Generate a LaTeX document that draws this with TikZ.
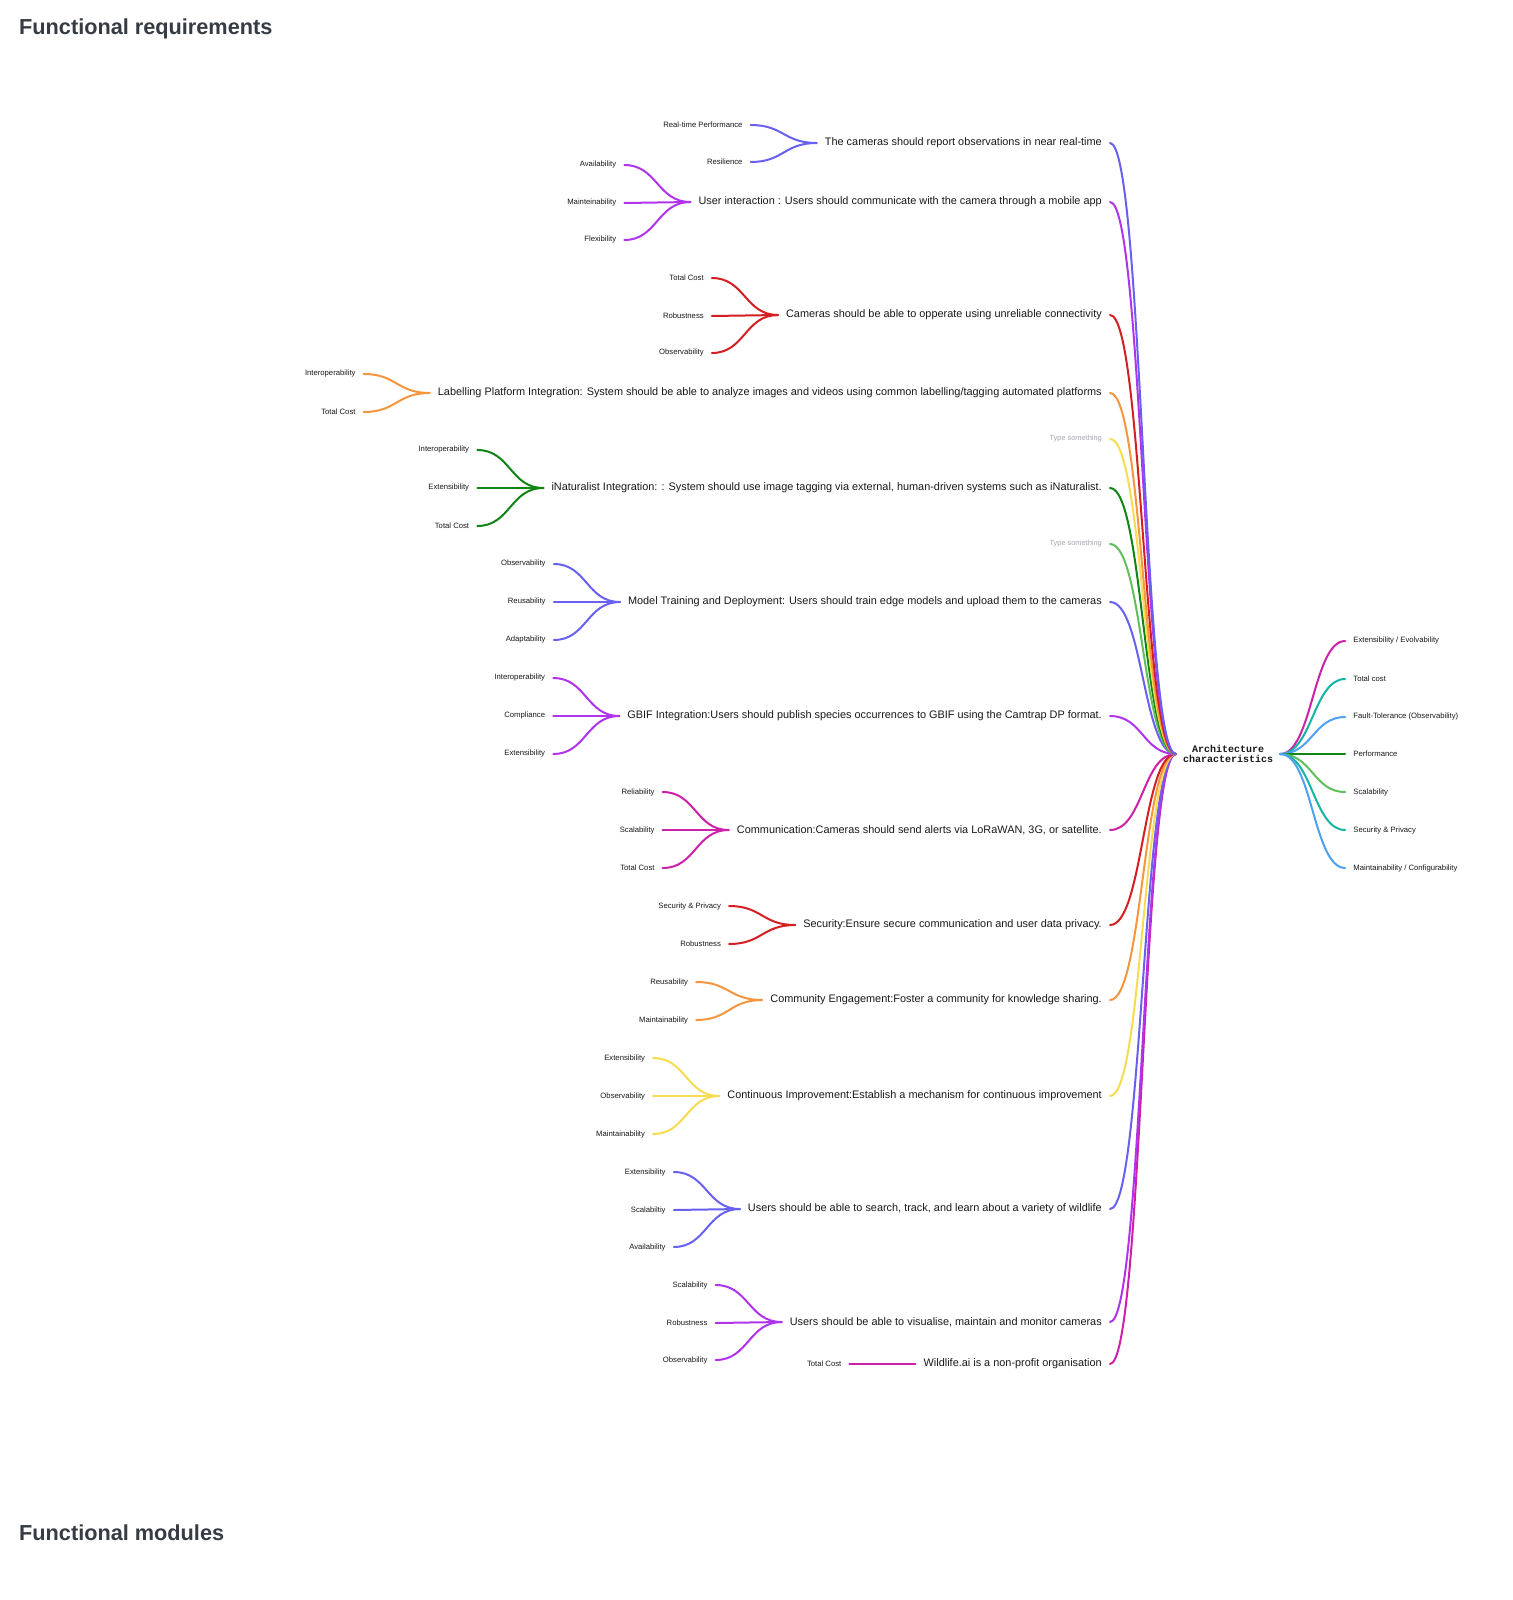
\documentclass[tikz,border=0pt]{standalone}
\usepackage{fontspec}
\setmainfont{Liberation Sans}
\newfontfamily\acmono{Liberation Mono}
\definecolor{txt}{RGB}{25,25,25}
\definecolor{ttl}{RGB}{55,60,68}
\definecolor{hint}{RGB}{165,165,175}
\definecolor{cblue}{RGB}{104,96,240}
\definecolor{cpurple}{RGB}{176,52,236}
\definecolor{cred}{RGB}{212,30,34}
\definecolor{corange}{RGB}{245,150,62}
\definecolor{cyellow}{RGB}{248,220,80}
\definecolor{cdgreen}{RGB}{16,132,20}
\definecolor{clgreen}{RGB}{96,190,92}
\definecolor{cmagenta}{RGB}{206,32,168}
\definecolor{cteal}{RGB}{22,180,164}
\definecolor{clblue}{RGB}{80,160,242}
\newcommand{\FRstmt}[4]{%
  \node[stmtnode] (#1) at (1110,#2) {#4};%
  \draw[conn,#3] (#1.east) .. controls +(33,0) and +(-33,0) .. (ac.west);}
\newcommand{\FRhint}[3]{%
  \node[hintnode] (#1) at (1110,#2) {Type something};%
  \draw[conn,#3] (#1.east) .. controls +(33,0) and +(-33,0) .. (ac.west);}
\newcommand{\FRchild}[5]{%
  \path (#2.west) ++(-66,0) coordinate (tmp#1);%
  \node[lbl,anchor=east] (#1) at (tmp#1 |- 0,#3) {#5};%
  \draw[conn,#4] (#1.east) .. controls +(33,0) and +(-33,0) .. (#2.west);}
\newcommand{\FRright}[4]{%
  \node[lbl,anchor=west] (#1) at (rtmp |- 0,#2) {#4};%
  \draw[conn,#3] (ac.east) .. controls +(32,0) and +(-32,0) .. (#1.west);}
\begin{document}
\begin{tikzpicture}[x=1pt,y=-1pt,
  conn/.style={line width=2pt,line cap=round},
  stmtnode/.style={anchor=east,inner xsep=8pt,inner ysep=1pt,text=txt,font=\fontsize{10.9}{13}\selectfont},
  hintnode/.style={anchor=east,inner xsep=8pt,inner ysep=1pt,text=hint,font=\fontsize{7.4}{9}\selectfont},
  lbl/.style={inner xsep=8pt,inner ysep=1pt,text=txt,font=\fontsize{7.7}{9}\selectfont},
  acnode/.style={inner xsep=7pt,inner ysep=1pt,align=center,text=txt,font=\acmono\bfseries\fontsize{10}{10.5}\selectfont},
  title/.style={anchor=west,inner sep=0pt,text=ttl,font=\bfseries\fontsize{21.7}{26}\selectfont}]
\fill[white] (0,0) rectangle (1512,1600);
\useasboundingbox (0,0) rectangle (1512,1600);

\node[title] (t1) at (19,29) {Functional requirements};
\node[title] (t2) at (19,1533) {Functional modules};

\node[acnode] (ac) at (1228,754) {Architecture\\characteristics};
\path (ac.east) ++(65,0) coordinate (rtmp);

\FRright{r1}{641}{cmagenta}{Extensibility / Evolvability}
\FRright{r2}{679}{cteal}{Total cost}
\FRright{r3}{717}{clblue}{Fault-Tolerance (Observability)}
\FRright{r4}{754}{cdgreen}{Performance}
\FRright{r5}{792}{clgreen}{Scalability}
\FRright{r6}{830}{cteal}{Security \& Privacy}
\FRright{r7}{868}{clblue}{Maintainability / Configurability}

\FRstmt{s16}{1364}{cmagenta}{Wildlife.ai is a non-profit organisation}
\FRstmt{s15}{1322}{cpurple}{Users should be able to visualise, maintain and monitor cameras}
\FRstmt{s14}{1209}{cblue}{Users should be able to search, track, and learn about a variety of wildlife}
\FRstmt{s13}{1096}{cyellow}{Continuous Improvement:Establish a mechanism for continuous improvement}
\FRstmt{s12}{1000}{corange}{Community Engagement:Foster a community for knowledge sharing.}
\FRstmt{s11}{925}{cred}{Security:Ensure secure communication and user data privacy.}
\FRstmt{s10}{830}{cmagenta}{Communication:Cameras should send alerts via LoRaWAN, 3G, or satellite.}
\FRstmt{s9}{716}{cpurple}{GBIF Integration:Users should publish species occurrences to GBIF using the Camtrap DP format.}
\FRstmt{s8}{602}{cblue}{Model Training and Deployment: Users should train edge models and upload them to the cameras}
\FRhint{h2}{544}{clgreen}
\FRstmt{s6}{488}{cdgreen}{iNaturalist Integration: : System should use image tagging via external, human-driven systems such as iNaturalist.}
\FRhint{h1}{439}{cyellow}
\FRstmt{s4}{393}{corange}{Labelling Platform Integration: System should be able to analyze images and videos using common labelling/tagging automated platforms}
\FRstmt{s3}{315}{cred}{Cameras should be able to opperate using unreliable connectivity}
\FRstmt{s2}{202}{cpurple}{User interaction : Users should communicate with the camera through a mobile app}
\FRstmt{s1}{143}{cblue}{The cameras should report observations in near real-time}

\FRchild{s1a}{s1}{125}{cblue}{Real-time Performance}
\FRchild{s1b}{s1}{162}{cblue}{Resilience}
\FRchild{s2a}{s2}{165}{cpurple}{Availability}
\FRchild{s2b}{s2}{203}{cpurple}{Mainteinability}
\FRchild{s2c}{s2}{240}{cpurple}{Flexibility}
\FRchild{s3a}{s3}{278}{cred}{Total Cost}
\FRchild{s3b}{s3}{316}{cred}{Robustness}
\FRchild{s3c}{s3}{353}{cred}{Observability}
\FRchild{s4a}{s4}{374}{corange}{Interoperability}
\FRchild{s4b}{s4}{412}{corange}{Total Cost}
\FRchild{s6a}{s6}{450}{cdgreen}{Interoperability}
\FRchild{s6b}{s6}{488}{cdgreen}{Extensibility}
\FRchild{s6c}{s6}{526}{cdgreen}{Total Cost}
\FRchild{s8a}{s8}{564}{cblue}{Observability}
\FRchild{s8b}{s8}{602}{cblue}{Reusability}
\FRchild{s8c}{s8}{640}{cblue}{Adaptability}
\FRchild{s9a}{s9}{678}{cpurple}{Interoperability}
\FRchild{s9b}{s9}{716}{cpurple}{Compliance}
\FRchild{s9c}{s9}{754}{cpurple}{Extensibility}
\FRchild{s10a}{s10}{792}{cmagenta}{Reliability}
\FRchild{s10b}{s10}{830}{cmagenta}{Scalability}
\FRchild{s10c}{s10}{868}{cmagenta}{Total Cost}
\FRchild{s11a}{s11}{906}{cred}{Security \& Privacy}
\FRchild{s11b}{s11}{944}{cred}{Robustness}
\FRchild{s12a}{s12}{982}{corange}{Reusability}
\FRchild{s12b}{s12}{1020}{corange}{Maintainability}
\FRchild{s13a}{s13}{1058}{cyellow}{Extensibility}
\FRchild{s13b}{s13}{1096}{cyellow}{Observability}
\FRchild{s13c}{s13}{1134}{cyellow}{Maintainability}
\FRchild{s14a}{s14}{1172}{cblue}{Extensibility}
\FRchild{s14b}{s14}{1210}{cblue}{Scalabiltiy}
\FRchild{s14c}{s14}{1247}{cblue}{Availability}
\FRchild{s15a}{s15}{1285}{cpurple}{Scalability}
\FRchild{s15b}{s15}{1323}{cpurple}{Robustness}
\FRchild{s15c}{s15}{1360}{cpurple}{Observability}
\FRchild{s16a}{s16}{1364}{cmagenta}{Total Cost}
\end{tikzpicture}
\end{document}
